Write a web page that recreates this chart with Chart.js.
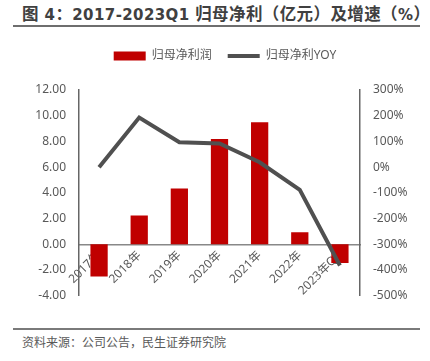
<!DOCTYPE html>
<html>
<head>
<meta charset="utf-8">
<script src="https://cdn.jsdelivr.net/npm/chart.js@4/dist/chart.umd.min.js"></script>
<style>
  body { margin: 0; width: 430px; height: 361px; background: #fff; position: relative; overflow: hidden; font-family: "Noto Sans", "Noto Sans CJK SC", sans-serif; }
  #title { position: absolute; left: 22px; top: 1px; font-size: 16.5px; font-weight: bold; color: #404040; white-space: nowrap; letter-spacing: 0.4px; font-family: "Noto Sans CJK SC", sans-serif; }
  #title .lat { font-family: "DejaVu Sans", sans-serif; font-size: 15px; }
  #line1 { position: absolute; left: 13px; top: 25px; width: 407px; height: 2px; background: #6e6e6e; }
  #line2 { position: absolute; left: 13px; top: 328px; width: 407px; height: 2px; background: #7a7a7a; }
  #source { position: absolute; left: 22px; top: 333px; font-size: 12px; color: #595959; white-space: nowrap; }
  #wrap { position: absolute; left: 0; top: 34px; width: 430px; height: 282px; }
</style>
</head>
<body>
<div id="title">图<span class="lat"> 4</span>：<span class="lat">2017-2023Q1 </span>归母净利（亿元）及增速（<span class="lat">%</span>）</div>
<div id="line1"></div>
<div id="wrap"><canvas id="grafik"></canvas></div>
<div id="line2"></div>
<div id="source">资料来源：公司公告，民生证券研究院</div>
<script>
// data
const kategori = ["2017年", "2018年", "2019年", "2020年", "2021年", "2022年", "2023年Q1"];
const labaBersih = [-2.5, 2.25, 4.35, 8.2, 9.5, 0.95, -1.45];
const pertumbuhan = [0, 193, 97, 92, 19, -88, -382];
const labelBar = "归母净利润";
const labelGaris = "归母净利YOY";

const warnaTeks = "#595959";
const hurufKecil = { family: "'Noto Sans', 'Noto Sans CJK SC', sans-serif", size: 12 };

// tambah jarak di bawah legenda
const jarakLegenda = {
    id: "jarakLegenda",
    beforeInit(chart) {
        const fitAsli = chart.legend.fit;
        chart.legend.fit = function () {
            fitAsli.bind(chart.legend)();
            this.height += 18;
        };
    }
};

const ctx = document.getElementById("grafik").getContext("2d");

new Chart(ctx, {
    type: "bar",
    data: {
        labels: kategori,
        datasets: [{
            label: labelBar,
            data: labaBersih,
            backgroundColor: "#c00000",
            borderWidth: 0,
            yAxisID: "y",
            order: 1,
            categoryPercentage: 1,
            barPercentage: 0.43,
            pointStyle: "rect"
        }, {
            type: "line",
            label: labelGaris,
            data: pertumbuhan,
            borderColor: "#505050",
            backgroundColor: "#505050",
            borderWidth: 4,
            pointRadius: 0,
            tension: 0,
            yAxisID: "y1",
            order: 0,
            pointStyle: "line"
        }]
    },
    plugins: [jarakLegenda],
    options: {
        responsive: true,
        maintainAspectRatio: false,
        animation: false,
        layout: { padding: { top: 0, bottom: 15, left: 20, right: 0 } },
        plugins: {
            tooltip: { enabled: false },
            legend: {
                position: "top",
                labels: {
                    sort: (a, b) => a.datasetIndex - b.datasetIndex,
                    usePointStyle: true,
                    pointStyleWidth: 32,
                    boxHeight: 9,
                    padding: 16,
                    color: warnaTeks,
                    font: hurufKecil
                }
            }
        },
        scales: {
            x: {
                position: { y: 0 },
                grid: { display: false, drawTicks: false },
                border: { display: true, color: "#888888", width: 1.5 },
                ticks: {
                    color: warnaTeks,
                    font: hurufKecil,
                    minRotation: 45,
                    maxRotation: 45,
                    padding: 4,
                    autoSkip: false
                }
            },
            y: {
                position: "left",
                min: -4,
                max: 12,
                afterFit: (s) => { s.width = 59; },
                grid: { display: false, drawTicks: false },
                border: { display: true, color: "#666666", width: 1.5 },
                ticks: {
                    stepSize: 2,
                    color: warnaTeks,
                    font: hurufKecil,
                    padding: 13,
                    callback: (v) => v.toFixed(2)
                }
            },
            y1: {
                position: "right",
                min: -500,
                max: 300,
                afterFit: (s) => { s.width = 70; },
                grid: { display: false, drawTicks: false },
                border: { display: true, color: "#666666", width: 1.5 },
                ticks: {
                    stepSize: 100,
                    color: warnaTeks,
                    font: hurufKecil,
                    padding: 13,
                    callback: (v) => v + "%"
                }
            }
        }
    }
});
</script>
</body>
</html>
